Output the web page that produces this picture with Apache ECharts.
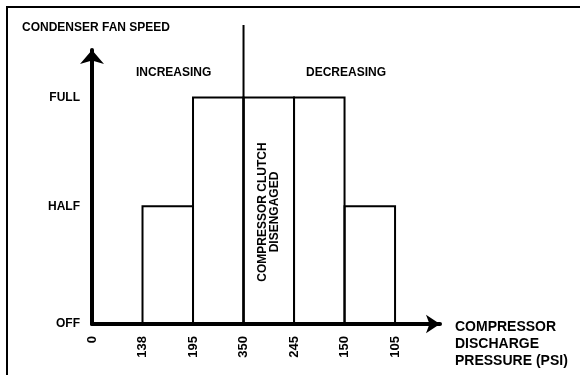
<!DOCTYPE html>
<html>
<head>
<meta charset="utf-8">
<script src="https://cdn.jsdelivr.net/npm/echarts@6/dist/echarts.min.js"></script>
<style>
html,body{margin:0;padding:0;background:#fff;}
#chart{width:580px;height:375px;}
</style>
</head>
<body>
<div id="chart"></div>
<script>
// Tick labels along the pressure axis (PSI), in drawing order
const pressureLabels = ['0', '138', '195', '350', '245', '150', '105'];
// Fan speed levels and their names
const speedNames = ['OFF', 'HALF', 'FULL'];
const speedLevels = [0, 52, 100];
// Fan speed for each band between consecutive pressure ticks
const bandSpeeds = [0, 52, 100, 100, 100, 52];
// Clutch-disengage divider position (tick index) and its height
const dividerIndex = 3;
const dividerTop = 132;

const FONT = 'Liberation Sans';
const chart = echarts.init(document.getElementById('chart'), null, {renderer: 'canvas'});

const option = {
  backgroundColor: '#fff',
  animation: false,
  title: {
    text: 'CONDENSER FAN SPEED',
    left: 22,
    top: 22,
    padding: 0,
    textStyle: {fontFamily: FONT, fontWeight: 'bold', fontSize: 12, color: '#000'}
  },
  grid: {left: 92, top: 50, right: 140, bottom: 51, containLabel: false},
  xAxis: {
    type: 'value',
    min: 0,
    max: 6.89,
    interval: 1,
    axisLine: {
      show: true,
      symbol: ['none', 'arrow'],
      symbolSize: [14, 14],
      lineStyle: {color: '#000', width: 4}
    },
    axisTick: {show: false},
    splitLine: {show: false},
    axisLabel: {
      rotate: 90,
      margin: 12,
      showMaxLabel: false,
      fontFamily: FONT, fontWeight: 'bold', fontSize: 13, color: '#000',
      formatter: function (v) {
        const i = Math.round(v);
        return (Math.abs(v - i) < 1e-6 && pressureLabels[i] !== undefined) ? pressureLabels[i] : '';
      }
    }
  },
  yAxis: {
    type: 'value',
    min: 0,
    max: 121,
    axisLine: {
      show: true,
      symbol: ['none', 'arrow'],
      symbolSize: [18, 14],
      lineStyle: {color: '#000', width: 4}
    },
    axisTick: {show: false},
    splitLine: {show: false},
    axisLabel: {
      customValues: speedLevels,
      margin: 12,
      fontFamily: FONT, fontWeight: 'bold', fontSize: 12, color: '#000',
      formatter: function (v) {
        const i = speedLevels.indexOf(v);
        return i >= 0 ? speedNames[i] : '';
      }
    }
  },
  graphic: [
    {
      type: 'polyline',
      shape: {points: [[7, 375], [7, 7], [580, 7]]},
      style: {stroke: '#000', lineWidth: 2, fill: null},
      silent: true
    },
    {
      type: 'text', left: 136, top: 67,
      style: {text: 'INCREASING', font: 'bold 12px "Liberation Sans"', fill: '#000'}
    },
    {
      type: 'text', left: 306, top: 67,
      style: {text: 'DECREASING', font: 'bold 12px "Liberation Sans"', fill: '#000'}
    },
    {
      type: 'text', x: 269, y: 212, rotation: Math.PI / 2,
      style: {
        text: 'COMPRESSOR CLUTCH\nDISENGAGED',
        font: 'bold 12px "Liberation Sans"', fill: '#000',
        align: 'center', verticalAlign: 'middle', lineHeight: 12
      }
    },
    {
      type: 'text', x: 455, y: 319,
      style: {
        text: 'COMPRESSOR\nDISCHARGE\nPRESSURE (PSI)',
        font: 'bold 14px "Liberation Sans"', fill: '#000',
        align: 'left', verticalAlign: 'top', lineHeight: 17
      }
    }
  ],
  series: [
    {
      type: 'custom',
      data: bandSpeeds.map(function (s, i) { return [i, s]; }),
      renderItem: function (params, api) {
        const i = api.value(0);
        const s = api.value(1);
        if (!s) return null;
        const p0 = api.coord([i, s]);
        const p1 = api.coord([i + 1, 0]);
        return {
          type: 'rect',
          shape: {x: p0[0], y: p0[1], width: p1[0] - p0[0], height: p1[1] - p0[1]},
          style: {fill: null, stroke: '#000', lineWidth: 2}
        };
      },
      z: 1
    },
    {
      type: 'line',
      data: [[dividerIndex, 0], [dividerIndex, dividerTop]],
      symbol: 'none',
      clip: false,
      lineStyle: {color: '#000', width: 2},
      z: 1
    }
  ]
};
chart.setOption(option);
</script>
</body>
</html>
